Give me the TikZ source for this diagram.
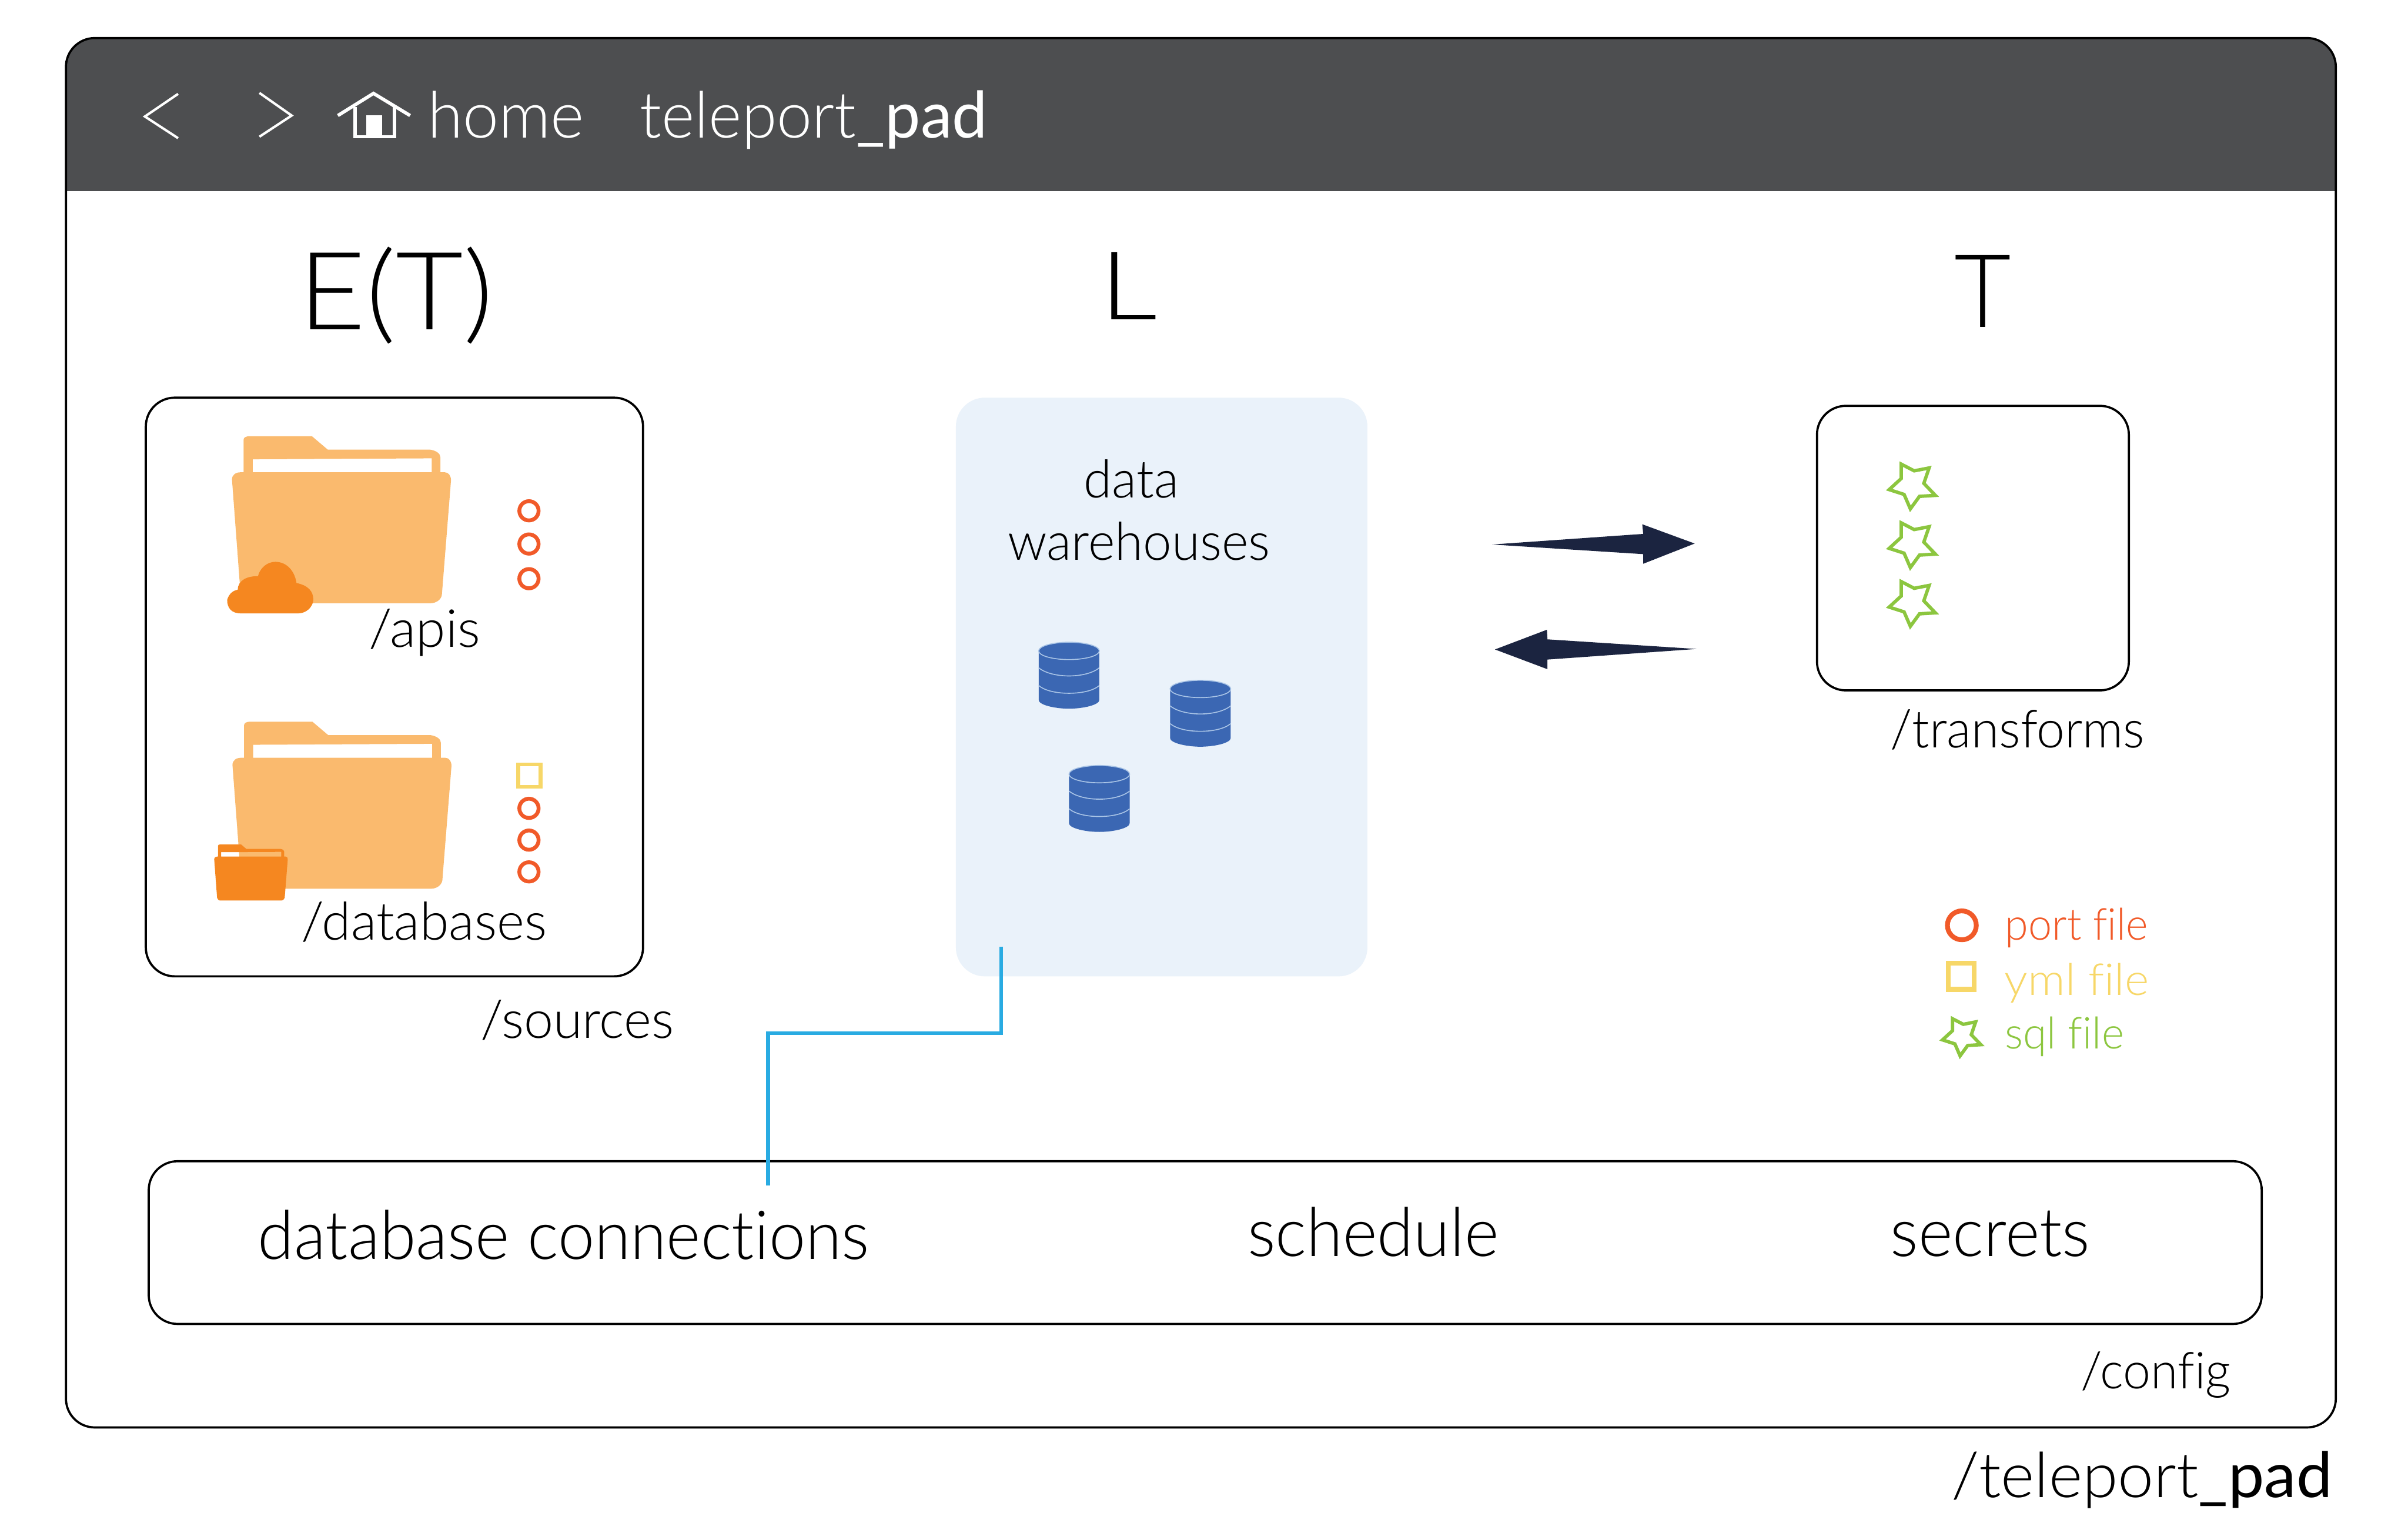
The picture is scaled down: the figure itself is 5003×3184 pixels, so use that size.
\documentclass[tikz,border=0pt]{standalone}
\usepackage{graphicx}
\usepackage{fontspec}
\setmainfont{Lato}[UprightFont={* Light},BoldFont={*},Ligatures=NoCommon]
\newlength{\pxu}\setlength{\pxu}{0.01cm}
% fit text to a target width (in reference pixels), keeping its height
\newsavebox{\fitbox}
\newcommand{\fitw}[2]{\sbox{\fitbox}{#2}\pgfmathsetmacro{\fitf}{#1*\pxu/\wd\fitbox}\scalebox{\fitf}[1]{\usebox{\fitbox}}}
\newcommand{\fsz}[1]{\fontsize{#1pt}{#1pt}\selectfont}
\definecolor{headc}{HTML}{4D4E50}
\definecolor{folderc}{HTML}{FABA6E}
\definecolor{orangec}{HTML}{F58720}
\definecolor{portc}{HTML}{F15A29}
\definecolor{ymlc}{HTML}{F7D768}
\definecolor{sqlc}{HTML}{8CC63F}
\definecolor{whc}{HTML}{EAF2FA}
\definecolor{dbc}{HTML}{3B67B3}
\definecolor{dbl}{HTML}{A9C4E6}
\definecolor{arrc}{HTML}{1B2440}
\definecolor{linkc}{HTML}{29ABE2}
\tikzset{
  lbl/.style={anchor=base west,inner sep=0pt,outer sep=0pt},
  boxn/.style={draw=black,line width=4.5\pxu,rounded corners=60\pxu,inner sep=0pt},
  portm/.style={draw=portc,line width=8\pxu,circle,inner sep=0pt,minimum size=40\pxu},
  ymlm/.style={draw=ymlc,line width=8\pxu,rectangle,inner sep=0pt,minimum size=46\pxu},
  folderpic/.pic={
    \fill[#1,even odd rule]
      (0,90) .. controls (0,80) and (8,75) .. (18,75) -- (24,75) -- (24,8)
      .. controls (24,3) and (28,0) .. (38,0) -- (166,0) -- (199,28) -- (412,28)
      .. controls (424,30) and (433,36) .. (433,44) -- (433,75) -- (442,75)
      .. controls (450,75) and (455,82) .. (455,92) -- (436,330)
      .. controls (434,340) and (424,347) .. (412,347) -- (40,347)
      .. controls (28,347) and (20,340) .. (18,330) -- cycle
      (43,48) -- (415,46) -- (415,75) -- (43,75) -- cycle;
  },
  cylpic/.pic={
    \fill[dbc] (-63,-52) -- (-63,50) .. controls (-63,60) and (-30,68) .. (0,68)
      .. controls (30,68) and (63,60) .. (63,50) -- (63,-52) -- cycle;
    \fill[dbc] (0,-52) ellipse[x radius=63,y radius=18];
    \draw[dbl,line width=2\pxu] (0,-52) ellipse[x radius=63,y radius=18];
    \draw[dbl,line width=2\pxu] (-63,-17) .. controls (-50,-6) and (-25,0) .. (0,0) .. controls (25,0) and (50,-6) .. (63,-17);
    \draw[dbl,line width=2\pxu] (-63,20) .. controls (-50,31) and (-25,36) .. (0,36) .. controls (25,36) and (50,31) .. (63,20);
  },
  starpic/.pic={
    \draw[sqlc,line width=7\pxu,miter limit=10]
      (-21,-47) -- (6,-33) -- (37,-39) -- (26,-7) -- (50,18) -- (17,20)
      -- (-2,46) -- (-15,16) -- (-46,6) -- (-21,-17) -- cycle;
  },
}
\begin{document}
\begin{tikzpicture}[x=0.01cm,y=-0.01cm]
\useasboundingbox (0,0) rectangle (5003,3184);
% window
\fill[white] (0,0) rectangle (5003,3184);
\fill[headc,rounded corners=60\pxu] (137,79) -- (4853,79) -- (4853,200) -- (137,200) -- cycle;
\fill[headc] (137,140) rectangle (4853,397);
\node[boxn,minimum width=4716\pxu,minimum height=2886\pxu] (frame) at (2495,1522) {};
% header
\draw[white,line width=5\pxu,line join=miter] (370,195) -- (301,242) -- (370,287);
\draw[white,line width=5\pxu,line join=miter] (539,193) -- (606,240) -- (539,284);
\draw[white,line width=7\pxu,line join=miter] (702,240) -- (776,194) -- (852,240);
\draw[white,line width=7\pxu,line join=miter] (738,222) -- (738,284) -- (820,284) -- (820,222);
\fill[white] (761,240) rectangle (794,284);
\node[lbl,text=white,font=\fsz{38}] (home) at (888,286) {\fitw{326}{home}};
\node[lbl,text=white,font=\fsz{38}] (tp) at (1330,286) {\fitw{722}{teleport\textbf{\_pad}}};
% headings
\node[lbl,font=\fsz{64}] (et) at (620,684) {\fitw{405}{E(T)}};
\node[lbl,font=\fsz{56}] (l) at (2285,664) {\fitw{120}{L}};
\node[lbl,font=\fsz{60}] (t) at (4060,680) {\fitw{118}{T}};
% sources
\node[boxn,minimum width=1033\pxu,minimum height=1202\pxu] (src) at (819.5,1427) {};
\pic at (482,906) {folderpic=folderc};
\pic at (483,1499) {folderpic=folderc};
\fill[orangec] (500,1274) .. controls (480,1274) and (472,1262) .. (472,1246)
  .. controls (476,1232) and (486,1226) .. (494,1225)
  .. controls (494,1205) and (515,1196) .. (536,1197)
  .. controls (540,1180) and (555,1167) .. (572,1167)
  .. controls (595,1167) and (612,1185) .. (616,1211)
  .. controls (640,1216) and (651,1228) .. (651,1246)
  .. controls (650,1262) and (635,1274) .. (620,1274) -- cycle;
\pic[scale=0.336] at (445,1754) {folderpic=orangec};
\node[portm] (p1) at (1099,1061) {};
\node[portm] (p2) at (1099,1130) {};
\node[portm] (p3) at (1099,1202) {};
\node[ymlm] (y1) at (1100,1611) {};
\node[portm] (p4) at (1099,1679) {};
\node[portm] (p5) at (1099,1745) {};
\node[portm] (p6) at (1099,1811) {};
\node[lbl,font=\fsz{31}] (apis) at (766,1344) {\fitw{232}{/apis}};
\node[lbl,font=\fsz{31}] (dbs) at (626,1952) {\fitw{510}{/databases}};
\node[lbl,font=\fsz{31}] (srcs) at (998,2156) {\fitw{402}{/sources}};
% warehouses
\node[fill=whc,draw=none,rounded corners=60\pxu,inner sep=0pt,minimum width=855\pxu,minimum height=1202\pxu] (wh) at (2413.5,1427) {};
\node[lbl,font=\fsz{31}] (data) at (2252,1034) {\fitw{197}{data}};
\node[lbl,font=\fsz{31}] (ware) at (2094,1163) {\fitw{545}{warehouses}};
\pic at (2221,1404) {cylpic};
\pic at (2494,1483) {cylpic};
\pic at (2284,1660) {cylpic};
% arrows
\coordinate (a1t) at (3100,1131);
\coordinate (a1h) at (3521,1129);
\coordinate (a2t) at (3525,1348);
\coordinate (a2h) at (3106,1349);
\fill[arrc] (a1t) -- (3414,1109) -- (3412,1089) -- (a1h) -- (3414,1171) -- (3414,1151) -- cycle;
\fill[arrc] (a2t) -- (3215,1328) -- (3214,1308) -- (a2h) -- (3215,1390) -- (3215,1370) -- cycle;
% transforms
\node[boxn,minimum width=648\pxu,minimum height=591\pxu] (tr) at (4099,1138.5) {};
\pic at (3971,1011) {starpic};
\pic at (3971,1133) {starpic};
\pic at (3971,1255) {starpic};
\node[lbl,font=\fsz{31}] (trl) at (3928,1553) {\fitw{528}{/transforms}};
% legend
\node[portm,line width=10\pxu,minimum size=60\pxu] (lp) at (4076,1922) {};
\node[ymlm,line width=10\pxu,minimum size=54\pxu] (ly) at (4075,2028) {};
\pic[scale=0.83] at (4074,2155) {starpic};
\node[lbl,font=\fsz{26},text=portc] (lpt) at (4166,1952) {\fitw{297}{port file}};
\node[lbl,font=\fsz{26},text=ymlc] (lyt) at (4165,2067) {\fitw{300}{yml file}};
\node[lbl,font=\fsz{26},text=sqlc] (lst) at (4166,2178) {\fitw{247}{sql file}};
% config
\node[boxn,fill=none,minimum width=4390\pxu,minimum height=338\pxu] (cfg) at (2504,2581) {};
\coordinate (c1) at (2080,1966);
\coordinate (c2) at (1596,2462);
\draw[linkc,line width=8\pxu] (c1) -- (2080,2146) -- (1596,2146) -- (c2);
\node[lbl,font=\fsz{40}] (dbc) at (536,2616) {\fitw{1270}{database connections}};
\node[lbl,font=\fsz{40}] (sch) at (2592,2610) {\fitw{522}{schedule}};
\node[lbl,font=\fsz{40}] (sec) at (3928,2610) {\fitw{414}{secrets}};
\node[lbl,font=\fsz{30}] (cfl) at (4323,2884) {\fitw{312}{/config}};
\node[lbl,font=\fsz{37}] (tpl) at (4054,3110) {\fitw{792}{/teleport\textbf{\_pad}}};
\end{tikzpicture}
\end{document}
